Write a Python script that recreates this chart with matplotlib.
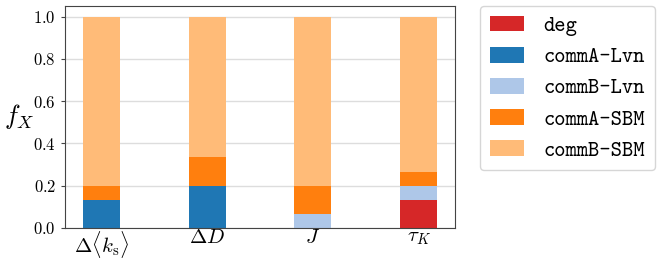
import matplotlib
matplotlib.use("Agg")
import matplotlib.pyplot as plt
import numpy as np

plt.rcParams["mathtext.fontset"] = "cm"
plt.rcParams["font.family"] = "serif"
plt.rcParams["font.serif"] = ["cmr10"]
plt.rcParams["axes.formatter.use_mathtext"] = True

metrics = [r"$\Delta\langle k_{\rm s}\rangle$", r"$\Delta D$", r"$J$", r"$\tau_K$"]
labels = ["deg", "commA-Lvn", "commB-Lvn", "commA-SBM", "commB-SBM"]
colors = ["#d62728", "#1f77b4", "#aec7e8", "#ff7f0e", "#ffbb78"]
deg = [0, 0, 0, 2 / 15]
commA_lvn = [2 / 15, 3 / 15, 0, 0]
commB_lvn = [0, 0, 1 / 15, 1 / 15]
commA_sbm = [1 / 15, 2 / 15, 2 / 15, 1 / 15]
commB_sbm = [12 / 15, 10 / 15, 12 / 15, 11 / 15]
series = [deg, commA_lvn, commB_lvn, commA_sbm, commB_sbm]

fig = plt.figure(figsize=(6.64, 2.59), dpi=100)
ax = fig.add_axes([0.098, 0.12, 0.587, 0.857])

x = np.arange(len(metrics))
bottom = np.zeros(len(metrics))
for vals, lab, col in zip(series, labels, colors):
    ax.bar(x, vals, 0.35, bottom=bottom, color=col, label=lab)
    bottom += np.array(vals)

ax.set_ylim(0, 1.05)
ax.set_yticks([0, 0.2, 0.4, 0.6, 0.8, 1.0])
ax.set_xticks(x)
ax.set_xticklabels(metrics, fontsize=15)
ax.tick_params(axis="y", labelsize=12, length=3, color="#444444")
ax.tick_params(axis="x", length=0, pad=1)
ax.yaxis.grid(True, color="#dddddd", linewidth=1)
ax.set_axisbelow(True)
for s in ax.spines.values():
    s.set_color("#444444")
ax.set_ylabel(r"$f_X$", fontsize=19, rotation=0, labelpad=10, va="center")

leg = ax.legend(bbox_to_anchor=(1.065, 1.0), loc="upper left", borderaxespad=0,
                prop={"family": "cmtt10", "size": 15.5}, handlelength=1.6,
                handleheight=0.75, labelspacing=0.5, handletextpad=0.9,
                borderpad=0.45, fancybox=True, edgecolor="#cccccc")

fig.savefig("out.png")
